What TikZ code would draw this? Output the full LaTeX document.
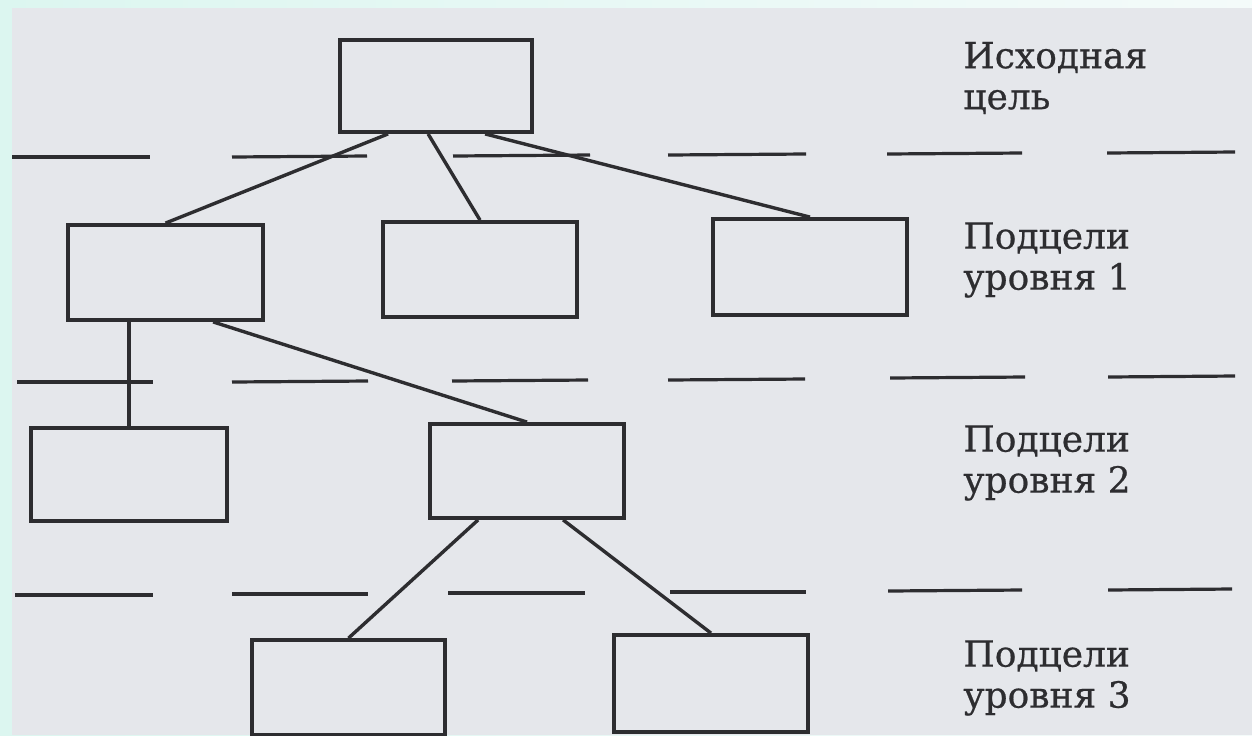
\documentclass[tikz,border=0pt]{standalone}
\usepackage{fontspec}
\setmainfont{DejaVu Serif}
\newfontfamily\labelfont[FakeBold=0.6]{DejaVu Serif}
\usetikzlibrary{calc}
\definecolor{paper}{RGB}{229,231,235}
\definecolor{ink}{RGB}{45,45,48}
\definecolor{mintL}{RGB}{220,246,240}
\definecolor{mintR}{RGB}{244,251,250}
\tikzset{
  goalbox/.style={draw=ink, line width=1.9pt, fill=none, inner sep=0pt},
  link/.style={draw=ink, line width=1.7pt},
  sepline/.style={draw=ink, line width=1.6pt},
  levellabel/.style={anchor=west, align=left, text=ink, inner sep=0pt,
    font=\labelfont\fontsize{18pt}{20.5pt}\selectfont}
}
\begin{document}
\begin{tikzpicture}[x=0.5pt,y=-0.5pt]
\useasboundingbox (0,0) rectangle (1252,735);
\clip (0,0) rectangle (1252,735);
\shade[left color=mintL, right color=mintR] (0,0) rectangle (1252,735);
\fill[paper] (12,8) rectangle (1252,735);

% separator rows
\foreach \a/\b/\ya/\yb in {12/150/157/157,232/367/157/156,453/590/156/155,668/806/155/154,887/1022/154/153,1107/1235/153/152}
  \draw[sepline] (\a,\ya) -- (\b,\yb);
\foreach \a/\b/\ya/\yb in {17/153/382/382,232/368/382/381,452/588/381/380,668/805/380/379,890/1025/378/377,1108/1235/377/376}
  \draw[sepline] (\a,\ya) -- (\b,\yb);
\foreach \a/\b/\ya/\yb in {15/153/595/595,232/368/594/594,448/585/593/593,670/806/592/592,888/1022/591/590,1108/1232/590/589}
  \draw[sepline] (\a,\ya) -- (\b,\yb);

% boxes
\node[goalbox, minimum width=96pt, minimum height=46pt] (top) at (436,86) {};
\node[goalbox, minimum width=97.5pt, minimum height=47.5pt] (A) at (165.5,272.5) {};
\node[goalbox, minimum width=97pt, minimum height=47.5pt] (B) at (480,269.5) {};
\node[goalbox, minimum width=97pt, minimum height=48pt] (C) at (810,267) {};
\node[goalbox, minimum width=98pt, minimum height=46.5pt] (D) at (129,474.5) {};
\node[goalbox, minimum width=97pt, minimum height=47pt] (E) at (527,471) {};
\node[goalbox, minimum width=96.5pt, minimum height=47.5pt] (F) at (348.5,687.5) {};
\node[goalbox, minimum width=97pt, minimum height=48.5pt] (G) at (711,683.5) {};

% connectors
\draw[link] ($(top.south west)+(50,0)$) -- (A.north);
\draw[link] ($(top.south west)+(90,0)$) -- (B.north);
\draw[link] ($(top.south west)+(147,0)$) -- (C.north);
\draw[link] (D.north |- A.south) -- (D.north);
\draw[link] ($(A.south west)+(147,0)$) -- (E.north);
\draw[link] ($(E.south west)+(50,0)$) -- (F.north);
\draw[link] ($(E.south west)+(135,0)$) -- (G.north);

% level labels
\node[levellabel] (L0) at (963,78) {Исходная\\цель};
\node[levellabel] (L1) at (963,260) {Подцели\\уровня 1};
\node[levellabel] (L2) at (963,463) {Подцели\\уровня 2};
\node[levellabel] (L3) at (963,678) {Подцели\\уровня 3};
\end{tikzpicture}
\end{document}
